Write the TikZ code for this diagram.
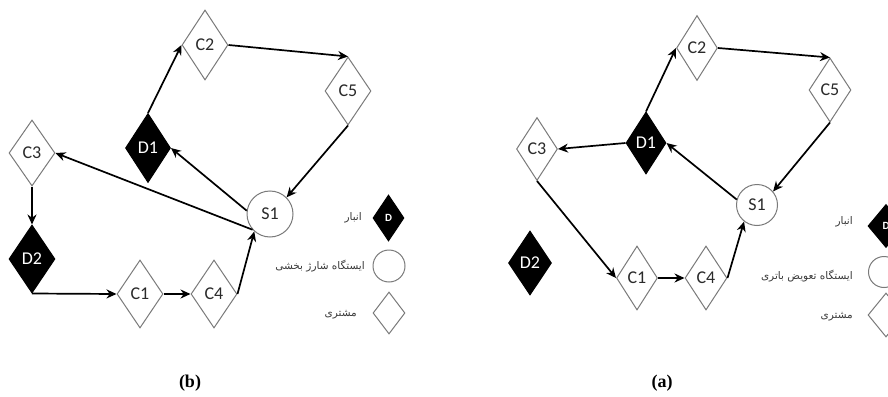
\documentclass[tikz,border=0pt]{standalone}
\usepackage{fontspec}
\setmainfont{Carlito}
\newfontfamily\arabicfont[Script=Arabic]{DejaVu Sans}
\newfontfamily\capfont{Liberation Serif}
\TeXXeTstate=1
\usetikzlibrary{shapes.geometric,arrows.meta}
\definecolor{outl}{HTML}{7A7A7A}
\definecolor{legtxt}{HTML}{3A3A3A}
\definecolor{lbl}{HTML}{2A2A2A}
\tikzset{
  cust/.style={diamond,draw=outl,line width=1pt,fill=white,text=lbl,inner sep=0pt,minimum width=#1,font=\fontsize{18}{18}\selectfont},
  depot/.style={diamond,draw=black,line width=1pt,fill=black,text=white,inner sep=0pt,minimum width=#1,font=\fontsize{18}{18}\selectfont},
  stat/.style={circle,draw=outl,line width=1pt,fill=white,text=lbl,inner sep=0pt,minimum size=#1,font=\fontsize{18}{18}\selectfont},
  arr/.style={-{Stealth[length=10pt,width=9pt]},line width=1.7pt,black},
  legt/.style={anchor=east,text=legtxt,font=\arabicfont\fontsize{10.5}{10.5}\selectfont,inner sep=0pt},
  captext/.style={font=\capfont\bfseries\fontsize{18}{18}\selectfont}
}
\begin{document}
\begin{tikzpicture}[x=1pt,y=-1pt]
\clip (0,0) rectangle (888,396);
\fill[white] (0,0) rectangle (888,396);
% ---------- panel (b) ----------
\node[cust=46pt,minimum height=70pt] (bC2) at (205,45) {C2};
\node[cust=46pt,minimum height=68pt] (bC5) at (348,91) {C5};
\node[depot=45pt,minimum height=69pt] (bD1) at (148,148) {D1};
\node[cust=46pt,minimum height=66pt] (bC3) at (32,153) {C3};
\node[depot=46pt,minimum height=68pt] (bD2) at (32,259) {D2};
\node[cust=46pt,minimum height=68pt] (bC1) at (140,294) {C1};
\node[cust=46pt,minimum height=68pt] (bC4) at (214,294) {C4};
\node[stat=46pt] (bS1) at (270,214) {S1};
\draw[arr] (bD1.north) -- (bC2.west);
\draw[arr] (bC2.east) -- (bC5.north);
\draw[arr] (bC5.south) -- (bS1.45);
\draw[arr] (bS1.172) -- (bD1.east);
\draw[arr] (bS1.222) -- (bC3.east);
\draw[arr] (bC3.south) -- (bD2.north);
\draw[arr] (bD2.south) -- (bC1.west);
\draw[arr] (bC1.east) -- (bC4.west);
\draw[arr] (bC4.east) -- (bS1.228);
% legend (b)
\node[depot=31pt,minimum height=46pt,font=\fontsize{11}{11}\selectfont\bfseries] (bLD) at (388.5,218) {D};
\node[stat=32pt] (bLS) at (389,266) {};
\node[cust=32pt,minimum height=42pt] (bLC) at (389,313) {};
\node[legt] (bT1) at (362,218) {\beginR انبار\endR};
\node[legt] (bT2) at (365,266) {\beginR ایستگاه شارژ بخشی\endR};
\node[legt] (bT3) at (357,315) {\beginR مشتری\endR};
\node[captext] (bcap) at (190,383) {(b)};
% ---------- panel (a) ----------
\node[cust=41pt,minimum height=65pt] (aC2) at (697,48) {C2};
\node[cust=42pt,minimum height=64pt] (aC5) at (830,90) {C5};
\node[depot=40pt,minimum height=62pt] (aD1) at (646,143) {D1};
\node[cust=41pt,minimum height=63pt] (aC3) at (537,149) {C3};
\node[depot=43pt,minimum height=64pt] (aD2) at (530,263) {D2};
\node[cust=41pt,minimum height=64pt] (aC1) at (637,278) {C1};
\node[cust=42pt,minimum height=64pt] (aC4) at (706,278) {C4};
\node[stat=41pt] (aS1) at (757,205) {S1};
\draw[arr] (aD1.north) -- (aC2.west);
\draw[arr] (aC2.east) -- (aC5.north);
\draw[arr] (aC5.south) -- (aS1.40);
\draw[arr] (aS1.165) -- (aD1.east);
\draw[arr] (aD1.west) -- (aC3.east);
\draw[arr] (aC3.south) -- (aC1.west);
\draw[arr] (aC1.east) -- (aC4.west);
\draw[arr] (aC4.east) -- (aS1.232);
% legend (a)
\node[depot=36pt,minimum height=43pt,font=\fontsize{11}{11}\selectfont\bfseries] (aLD) at (886,226) {D};
\node[stat=31pt] (aLS) at (884,272) {};
\node[cust=36pt,minimum height=44pt] (aLC) at (886,315) {};
\node[legt] (aT1) at (853,222) {\beginR انبار\endR};
\node[legt] (aT2) at (853,276) {\beginR ایستگاه تعویض باتری\endR};
\node[legt] (aT3) at (853,317) {\beginR مشتری\endR};
\node[captext] (acap) at (662,383) {(a)};
\end{tikzpicture}
\end{document}
